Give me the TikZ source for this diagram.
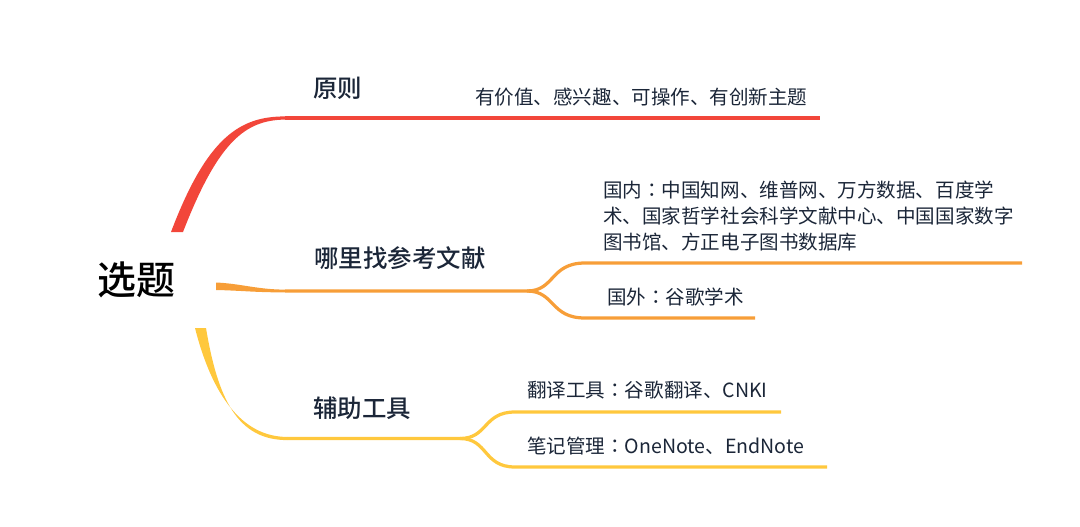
\documentclass[tikz,border=0pt]{standalone}
\usepackage{fontspec}
\setmainfont{Noto Sans CJK SC}
\newfontfamily\medfont{Noto Sans CJK SC Medium}
\newfontfamily\tcfont{Noto Sans CJK TC}
\newcommand{\cn}{{\tcfont ：}}
\usetikzlibrary{positioning}
\definecolor{inkblue}{RGB}{27,38,56}
\definecolor{redbr}{RGB}{242,70,58}
\definecolor{orangebr}{RGB}{247,158,56}
\definecolor{yellowbr}{RGB}{255,200,61}

\begin{document}
\begin{tikzpicture}[x=0.25mm, y=-0.25mm,
    topic/.style={anchor=west, inner sep=0pt, text=inkblue,
                  font=\medfont\fontsize{17.4}{20}\selectfont},
    leaf/.style={anchor=west, inner sep=0pt, text=inkblue, align=left,
                 font=\fontsize{13.9}{18.4}\selectfont},
    twig/.style={line width=2.3pt, line cap=butt}]
    \useasboundingbox (0,0) rectangle (1080,526);

    % root
    \node[inner sep=0pt, font=\medfont\fontsize{27.7}{30}\selectfont] (root) at (136,280) {选题};

    % branch points
    \coordinate (r0) at (285,118);
    \coordinate (o0) at (285,291);
    \coordinate (of) at (527,291);
    \coordinate (y0) at (287,438.5);
    \coordinate (yf) at (460,438.5);

    % tapered stems
    \fill[redbr] (171,232) .. controls (207,137) and (240,116.4) .. (285,116.4)
        -- (285,119.6) .. controls (245,120) and (218,142) .. (183,232) -- cycle;
    \fill[orangebr] (216,282.5) .. controls (240,283.5) and (258,289.6) .. (285,289.6)
        -- (285,292.4) .. controls (255,292.4) and (240,290.5) .. (216,290) -- cycle;
    \fill[yellowbr] (195,328) .. controls (212,395) and (242,436.9) .. (287,436.9)
        -- (287,440.1) .. controls (238,440) and (218,400) .. (206,328) -- cycle;

    % main branches
    \draw[twig, redbr] (r0) -- (820,118);
    \draw[twig, orangebr] (o0) -- (of)
        .. controls (555,291) and (550,263) .. (585,263) -- (1022,263);
    \draw[twig, orangebr] (of) .. controls (555,291) and (550,318) .. (585,318) -- (755,318);
    \draw[twig, yellowbr] (y0) -- (yf)
        .. controls (488,438.5) and (483,412) .. (515,412) -- (781,412);
    \draw[twig, yellowbr] (yf) .. controls (488,438.5) and (483,467) .. (515,467) -- (827,467);

    % topics
    \node[topic] (yuanze) at (313,88) {原则};
    \node[topic] (wenxian) at (314,258) {哪里找参考文献};
    \node[topic] (gongju) at (313,408) {辅助工具};

    % leaves
    \node[leaf] (zhuti) at (475,97) {有价值、感兴趣、可操作、有创新主题};
    \node[leaf] (guonei) at (603,216) {国内\cn 中国知网、维普网、万方数据、百度学\\
        术、国家哲学社会科学文献中心、中国国家数字\\图书馆、方正电子图书数据库};
    \node[leaf] (guowai) at (607,297) {国外\cn 谷歌学术};
    \node[leaf] (fanyi) at (527,390) {翻译工具\cn 谷歌翻译、CNKI};
    \node[leaf] (biji) at (527,446) {笔记管理\cn OneNote、EndNote};
\end{tikzpicture}
\end{document}
